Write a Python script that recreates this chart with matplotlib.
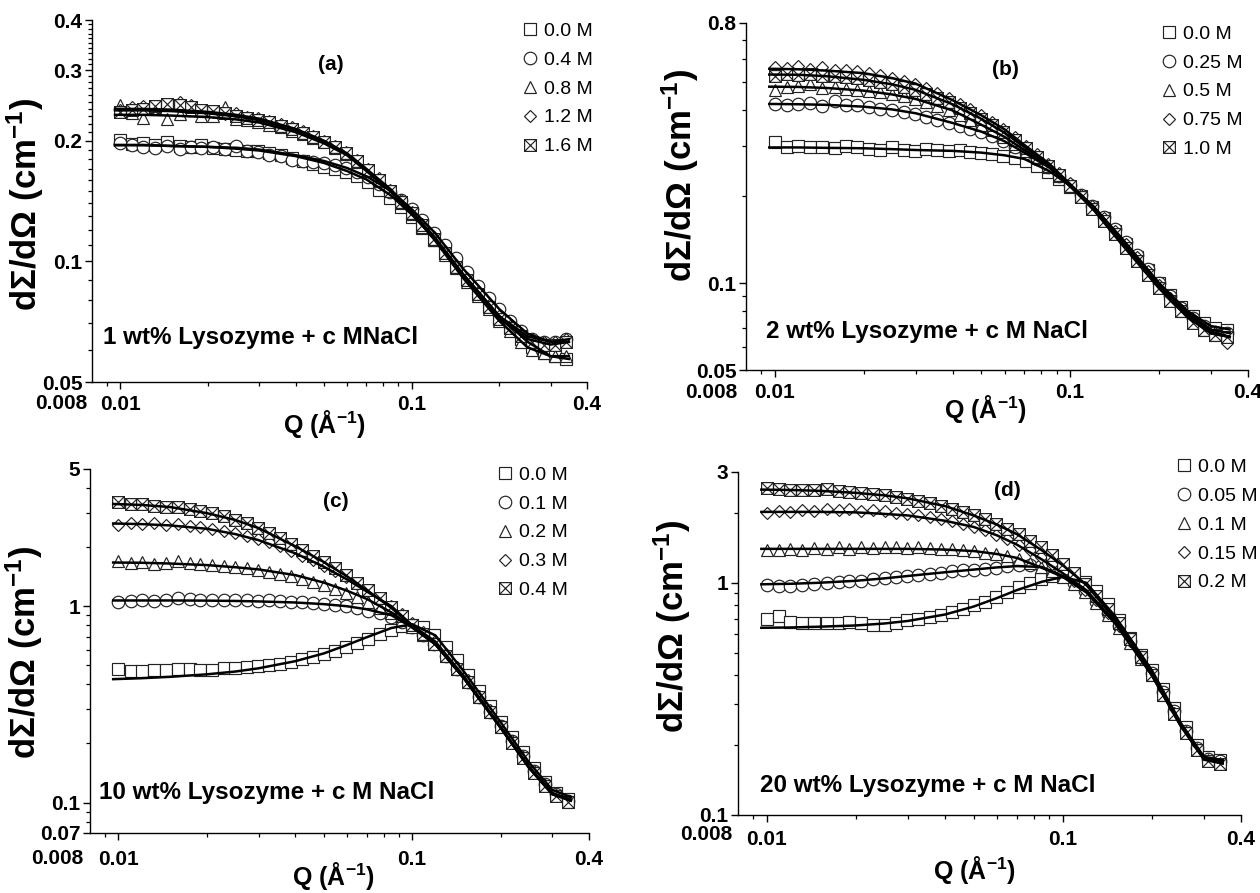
import numpy as np
import matplotlib
matplotlib.use('Agg')
import matplotlib.pyplot as plt
from matplotlib.path import Path
from matplotlib.lines import Line2D
from matplotlib.ticker import FixedLocator, NullFormatter, FixedFormatter

plt.rcParams['font.family'] = ['Liberation Sans', 'DejaVu Sans']
plt.rcParams['mathtext.default'] = 'regular'

# ---------------- data ----------------
# Q grid of the measured points (A^-1)
Q_data = [0.0100, 0.0110, 0.0120, 0.0132, 0.0145, 0.0160, 0.0175, 0.0190, 0.0208, 0.0228,
          0.0250, 0.0273, 0.0298, 0.0325, 0.0355, 0.0388, 0.0423, 0.0460, 0.0500, 0.0545,
          0.0595, 0.0650, 0.0710, 0.0775, 0.0845, 0.0920, 0.1000, 0.1090, 0.1190, 0.1300,
          0.1420, 0.1550, 0.1690, 0.1840, 0.2000, 0.2180, 0.2380, 0.2600, 0.2840, 0.3100, 0.3400]
# Q grid of the model fits
Q_fit = [0.0095, 0.012, 0.015, 0.02, 0.025, 0.03, 0.04, 0.05, 0.06, 0.07,
         0.085, 0.1, 0.12, 0.15, 0.2, 0.25, 0.3, 0.35]

# (a) 1 wt% lysozyme
labels_a = ['0.0 M', '0.4 M', '0.8 M', '1.2 M', '1.6 M']
data_a_00 = [0.201, 0.196, 0.197, 0.195, 0.199, 0.194, 0.193, 0.195, 0.192, 0.191,
             0.190, 0.189, 0.188, 0.186, 0.184, 0.181, 0.178, 0.175, 0.172, 0.170,
             0.167, 0.163, 0.158, 0.151, 0.144, 0.137, 0.129, 0.121, 0.113, 0.105,
             0.097, 0.090, 0.083, 0.077, 0.072, 0.068, 0.064, 0.061, 0.059, 0.058, 0.057]
data_a_04 = [0.197, 0.195, 0.193, 0.192, 0.194, 0.191, 0.193, 0.192, 0.193, 0.191,
             0.194, 0.189, 0.187, 0.184, 0.183, 0.179, 0.178, 0.177, 0.176, 0.174,
             0.171, 0.167, 0.162, 0.156, 0.149, 0.142, 0.135, 0.127, 0.118, 0.110,
             0.102, 0.094, 0.087, 0.081, 0.076, 0.071, 0.067, 0.064, 0.063, 0.063, 0.064]
data_a_08 = [0.245, 0.235, 0.228, 0.243, 0.226, 0.233, 0.238, 0.230, 0.231, 0.242,
             0.226, 0.225, 0.223, 0.219, 0.216, 0.212, 0.208, 0.203, 0.198, 0.192,
             0.185, 0.177, 0.168, 0.159, 0.150, 0.140, 0.131, 0.122, 0.113, 0.104,
             0.096, 0.089, 0.082, 0.076, 0.071, 0.067, 0.063, 0.060, 0.059, 0.058, 0.058]
data_a_12 = [0.238, 0.242, 0.244, 0.240, 0.246, 0.250, 0.245, 0.238, 0.236, 0.233,
             0.235, 0.229, 0.228, 0.224, 0.220, 0.216, 0.211, 0.206, 0.200, 0.194,
             0.187, 0.179, 0.170, 0.161, 0.151, 0.142, 0.133, 0.124, 0.115, 0.106,
             0.098, 0.091, 0.084, 0.078, 0.073, 0.069, 0.066, 0.064, 0.063, 0.063, 0.064]
data_a_16 = [0.236, 0.238, 0.240, 0.244, 0.247, 0.245, 0.243, 0.239, 0.237, 0.234,
             0.231, 0.228, 0.225, 0.222, 0.218, 0.214, 0.209, 0.204, 0.199, 0.193,
             0.186, 0.178, 0.169, 0.160, 0.150, 0.141, 0.132, 0.123, 0.114, 0.105,
             0.097, 0.090, 0.083, 0.077, 0.072, 0.068, 0.065, 0.063, 0.062, 0.062, 0.063]
fit_a_00 = [0.195, 0.195, 0.194, 0.193, 0.191, 0.189, 0.183, 0.176, 0.168, 0.160,
            0.146, 0.131, 0.114, 0.093, 0.073, 0.063, 0.058, 0.057]
fit_a_04 = [0.195, 0.195, 0.194, 0.193, 0.192, 0.190, 0.184, 0.178, 0.171, 0.163,
            0.150, 0.135, 0.118, 0.096, 0.076, 0.066, 0.063, 0.063]
fit_a_08 = [0.232, 0.232, 0.231, 0.229, 0.226, 0.222, 0.210, 0.197, 0.184, 0.168,
            0.149, 0.132, 0.113, 0.091, 0.071, 0.061, 0.058, 0.058]
fit_a_12 = [0.240, 0.240, 0.239, 0.236, 0.232, 0.227, 0.214, 0.200, 0.186, 0.170,
            0.151, 0.133, 0.115, 0.093, 0.073, 0.065, 0.063, 0.064]
fit_a_16 = [0.238, 0.238, 0.237, 0.234, 0.230, 0.225, 0.212, 0.199, 0.185, 0.169,
            0.150, 0.132, 0.114, 0.092, 0.072, 0.064, 0.062, 0.063]

# (b) 2 wt% lysozyme
labels_b = ['0.0 M', '0.25 M', '0.5 M', '0.75 M', '1.0 M']
data_b_000 = [0.310, 0.297, 0.300, 0.296, 0.298, 0.294, 0.299, 0.297, 0.293, 0.291,
              0.296, 0.290, 0.288, 0.292, 0.290, 0.287, 0.289, 0.286, 0.283, 0.281,
              0.277, 0.272, 0.265, 0.255, 0.243, 0.230, 0.216, 0.200, 0.184, 0.168,
              0.152, 0.137, 0.123, 0.111, 0.100, 0.091, 0.083, 0.077, 0.073, 0.070, 0.069]
data_b_025 = [0.420, 0.415, 0.418, 0.422, 0.413, 0.430, 0.415, 0.417, 0.410, 0.404,
              0.400, 0.393, 0.386, 0.378, 0.370, 0.361, 0.352, 0.344, 0.336, 0.325,
              0.312, 0.298, 0.284, 0.269, 0.253, 0.236, 0.219, 0.202, 0.186, 0.170,
              0.154, 0.139, 0.125, 0.112, 0.100, 0.090, 0.082, 0.076, 0.071, 0.068, 0.067]
data_b_050 = [0.470, 0.478, 0.485, 0.490, 0.476, 0.480, 0.472, 0.470, 0.465, 0.460,
              0.452, 0.446, 0.437, 0.426, 0.412, 0.398, 0.383, 0.368, 0.355, 0.340,
              0.323, 0.305, 0.288, 0.271, 0.254, 0.236, 0.218, 0.200, 0.183, 0.166,
              0.150, 0.135, 0.121, 0.109, 0.097, 0.088, 0.080, 0.074, 0.069, 0.066, 0.065]
data_b_075 = [0.565, 0.560, 0.566, 0.555, 0.562, 0.551, 0.549, 0.545, 0.538, 0.527,
              0.515, 0.505, 0.492, 0.477, 0.459, 0.440, 0.420, 0.401, 0.383, 0.363,
              0.342, 0.321, 0.300, 0.280, 0.260, 0.241, 0.222, 0.203, 0.185, 0.168,
              0.152, 0.137, 0.123, 0.110, 0.099, 0.089, 0.081, 0.075, 0.070, 0.067, 0.062]
data_b_100 = [0.525, 0.534, 0.528, 0.531, 0.522, 0.525, 0.519, 0.514, 0.507, 0.499,
              0.490, 0.480, 0.468, 0.455, 0.440, 0.424, 0.406, 0.389, 0.372, 0.354,
              0.334, 0.314, 0.294, 0.275, 0.256, 0.237, 0.218, 0.199, 0.181, 0.164,
              0.148, 0.133, 0.119, 0.107, 0.096, 0.087, 0.080, 0.073, 0.069, 0.066, 0.065]
fit_b_000 = [0.296, 0.296, 0.295, 0.294, 0.292, 0.290, 0.288, 0.284, 0.278, 0.270,
             0.245, 0.218, 0.184, 0.143, 0.100, 0.080, 0.071, 0.069]
fit_b_025 = [0.419, 0.418, 0.416, 0.410, 0.401, 0.389, 0.360, 0.336, 0.311, 0.284,
             0.252, 0.218, 0.185, 0.141, 0.100, 0.079, 0.069, 0.067]
fit_b_050 = [0.481, 0.480, 0.476, 0.466, 0.452, 0.436, 0.398, 0.355, 0.322, 0.290,
             0.254, 0.217, 0.182, 0.138, 0.097, 0.077, 0.067, 0.065]
fit_b_075 = [0.555, 0.553, 0.547, 0.536, 0.515, 0.493, 0.432, 0.383, 0.342, 0.302,
             0.260, 0.221, 0.184, 0.140, 0.099, 0.078, 0.068, 0.065]
fit_b_100 = [0.530, 0.529, 0.523, 0.508, 0.490, 0.469, 0.418, 0.372, 0.333, 0.297,
             0.256, 0.217, 0.180, 0.136, 0.096, 0.076, 0.067, 0.065]

# (c) 10 wt% lysozyme
labels_c = ['0.0 M', '0.1 M', '0.2 M', '0.3 M', '0.4 M']
data_c_00 = [0.480, 0.468, 0.466, 0.472, 0.474, 0.480, 0.478, 0.473, 0.476, 0.482,
             0.486, 0.490, 0.494, 0.500, 0.510, 0.522, 0.537, 0.553, 0.572, 0.595,
             0.620, 0.650, 0.685, 0.720, 0.760, 0.790, 0.805, 0.780, 0.710, 0.620,
             0.530, 0.445, 0.370, 0.310, 0.258, 0.215, 0.180, 0.150, 0.128, 0.112, 0.104]
data_c_01 = [1.05, 1.06, 1.07, 1.06, 1.08, 1.10, 1.09, 1.08, 1.08, 1.07,
             1.08, 1.07, 1.06, 1.07, 1.06, 1.05, 1.05, 1.04, 1.03, 1.02,
             1.00, 0.98, 0.95, 0.92, 0.88, 0.83, 0.78, 0.71, 0.64, 0.56,
             0.48, 0.41, 0.345, 0.29, 0.245, 0.205, 0.172, 0.145, 0.124, 0.110, 0.102]
data_c_02 = [1.70, 1.66, 1.68, 1.65, 1.67, 1.69, 1.66, 1.64, 1.63, 1.61,
             1.59, 1.56, 1.53, 1.50, 1.46, 1.42, 1.38, 1.33, 1.28, 1.23,
             1.17, 1.11, 1.05, 0.98, 0.92, 0.85, 0.78, 0.71, 0.64, 0.56,
             0.48, 0.41, 0.345, 0.29, 0.243, 0.203, 0.170, 0.143, 0.123, 0.109, 0.101]
data_c_03 = [2.60, 2.66, 2.62, 2.65, 2.60, 2.62, 2.56, 2.53, 2.48, 2.43,
             2.36, 2.29, 2.21, 2.12, 2.02, 1.92, 1.81, 1.71, 1.61, 1.51,
             1.41, 1.30, 1.20, 1.10, 1.00, 0.91, 0.82, 0.74, 0.66, 0.57,
             0.49, 0.42, 0.35, 0.295, 0.245, 0.205, 0.171, 0.144, 0.123, 0.109, 0.102]
data_c_04 = [3.38, 3.30, 3.33, 3.24, 3.20, 3.19, 3.12, 3.05, 2.97, 2.87,
             2.76, 2.64, 2.51, 2.37, 2.22, 2.07, 1.93, 1.80, 1.68, 1.56,
             1.44, 1.32, 1.21, 1.10, 0.99, 0.89, 0.80, 0.72, 0.64, 0.56,
             0.48, 0.41, 0.345, 0.29, 0.242, 0.202, 0.169, 0.142, 0.122, 0.108, 0.101]
fit_c_00 = [0.425, 0.430, 0.437, 0.450, 0.465, 0.483, 0.525, 0.575, 0.635, 0.695,
            0.775, 0.810, 0.710, 0.465, 0.257, 0.160, 0.116, 0.106]
fit_c_01 = [1.07, 1.07, 1.07, 1.068, 1.064, 1.058, 1.045, 1.025, 1.000, 0.965,
            0.900, 0.780, 0.640, 0.430, 0.242, 0.152, 0.112, 0.103]
fit_c_02 = [1.67, 1.665, 1.65, 1.62, 1.58, 1.54, 1.44, 1.32, 1.20, 1.09,
            0.93, 0.780, 0.640, 0.430, 0.241, 0.151, 0.111, 0.102]
fit_c_03 = [2.64, 2.62, 2.58, 2.48, 2.33, 2.17, 1.86, 1.59, 1.37, 1.19,
            1.00, 0.800, 0.660, 0.440, 0.243, 0.151, 0.111, 0.102]
fit_c_04 = [3.32, 3.28, 3.20, 2.98, 2.75, 2.50, 2.02, 1.68, 1.42, 1.21,
            0.98, 0.790, 0.640, 0.430, 0.240, 0.150, 0.110, 0.102]

# (d) 20 wt% lysozyme
labels_d = ['0.0 M', '0.05 M', '0.1 M', '0.15 M', '0.2 M']
data_d_000 = [0.70, 0.72, 0.68, 0.67, 0.67, 0.67, 0.67, 0.68, 0.67, 0.66,
              0.66, 0.67, 0.69, 0.70, 0.71, 0.73, 0.75, 0.77, 0.80, 0.83,
              0.87, 0.91, 0.96, 1.00, 1.04, 1.07, 1.08, 1.06, 1.01, 0.92,
              0.81, 0.69, 0.58, 0.49, 0.42, 0.35, 0.29, 0.24, 0.20, 0.178, 0.172]
data_d_005 = [0.98, 0.97, 0.97, 0.98, 0.99, 1.00, 1.01, 1.02, 1.02, 1.04,
              1.05, 1.06, 1.07, 1.08, 1.09, 1.10, 1.12, 1.13, 1.14, 1.15,
              1.16, 1.18, 1.19, 1.19, 1.18, 1.14, 1.08, 1.00, 0.92, 0.83,
              0.74, 0.65, 0.56, 0.48, 0.41, 0.34, 0.28, 0.23, 0.195, 0.175, 0.170]
data_d_010 = [1.38, 1.39, 1.40, 1.39, 1.41, 1.40, 1.42, 1.40, 1.43, 1.41,
              1.42, 1.42, 1.41, 1.42, 1.41, 1.40, 1.40, 1.38, 1.37, 1.35,
              1.33, 1.30, 1.26, 1.22, 1.17, 1.12, 1.06, 0.99, 0.91, 0.82,
              0.73, 0.64, 0.55, 0.47, 0.40, 0.33, 0.275, 0.228, 0.192, 0.172, 0.167]
data_d_015 = [2.00, 2.04, 2.02, 2.06, 2.03, 2.07, 2.05, 2.08, 2.04, 2.06,
              2.03, 2.00, 1.98, 1.95, 1.92, 1.88, 1.84, 1.79, 1.74, 1.68,
              1.61, 1.54, 1.46, 1.38, 1.29, 1.20, 1.11, 1.02, 0.93, 0.84,
              0.74, 0.65, 0.56, 0.47, 0.40, 0.33, 0.275, 0.227, 0.191, 0.171, 0.166]
data_d_020 = [2.55, 2.53, 2.52, 2.50, 2.51, 2.54, 2.49, 2.46, 2.44, 2.41,
              2.38, 2.34, 2.30, 2.25, 2.20, 2.14, 2.08, 2.02, 1.95, 1.88,
              1.80, 1.71, 1.62, 1.52, 1.42, 1.32, 1.21, 1.10, 0.99, 0.88,
              0.77, 0.67, 0.57, 0.48, 0.40, 0.33, 0.273, 0.225, 0.190, 0.170, 0.165]
fit_d_000 = [0.640, 0.642, 0.647, 0.655, 0.668, 0.685, 0.730, 0.790, 0.860, 0.930,
             1.010, 1.060, 1.000, 0.720, 0.420, 0.250, 0.178, 0.172]
fit_d_005 = [0.985, 0.990, 1.000, 1.020, 1.045, 1.070, 1.110, 1.140, 1.165, 1.180,
             1.170, 1.070, 0.920, 0.680, 0.410, 0.245, 0.176, 0.170]
fit_d_010 = [1.40, 1.40, 1.40, 1.40, 1.40, 1.40, 1.39, 1.37, 1.33, 1.28,
             1.16, 1.06, 0.91, 0.67, 0.40, 0.243, 0.175, 0.168]
fit_d_015 = [2.02, 2.02, 2.02, 2.01, 1.98, 1.95, 1.85, 1.74, 1.60, 1.46,
             1.26, 1.10, 0.93, 0.68, 0.40, 0.243, 0.174, 0.167]
fit_d_020 = [2.52, 2.51, 2.49, 2.44, 2.38, 2.31, 2.14, 1.95, 1.78, 1.62,
             1.38, 1.19, 0.98, 0.70, 0.40, 0.243, 0.173, 0.166]

# ---------------- styles ----------------
xbox = Path([(-1, -1), (1, -1), (1, 1), (-1, 1), (-1, -1), (-1, -1), (1, 1), (-1, 1), (1, -1)],
            [Path.MOVETO, Path.LINETO, Path.LINETO, Path.LINETO, Path.CLOSEPOLY,
             Path.MOVETO, Path.LINETO, Path.MOVETO, Path.LINETO])
markers = [('s', 8.5), ('o', 9.0), ('^', 9.0), ('D', 6.6), (xbox, 8.5)]
mec = '#222222'

W, H = 1260, 893
fig = plt.figure(figsize=(W / 100, H / 100), dpi=100)


def px_axes(l, r, t, b):
    return [l / W, (H - b) / H, (r - l) / W, (b - t) / H]


panels = [
    dict(rect=px_axes(92, 587, 20, 382), ylim=(0.05, 0.4),
         yt=[0.05, 0.1, 0.2, 0.3, 0.4], ytl=['0.05', '0.1', '0.2', '0.3', '0.4'],
         ymin=[round(0.05 + 0.01 * k, 2) for k in range(1, 35)],
         data=[data_a_00, data_a_04, data_a_08, data_a_12, data_a_16],
         fits=[fit_a_00, fit_a_04, fit_a_08, fit_a_12, fit_a_16], labels=labels_a,
         tag='(a)', tagxy=(0.483, 0.876), note='1 wt% Lysozyme + c MNaCl', notexy=(0.022, 0.124),
         leg=(1.012, 0.994), ylab=(-0.093, 0.49), xlab=(0.469, -0.072),
         xpad=4, x008=(-3, -15.5)),
    dict(rect=px_axes(746, 1248, 23, 370), ylim=(0.05, 0.8),
         yt=[0.05, 0.1, 0.8], ytl=['0.05', '0.1', '0.8'],
         ymin=[0.06, 0.07, 0.08, 0.09, 0.2, 0.3, 0.4, 0.5, 0.6, 0.7],
         data=[data_b_000, data_b_025, data_b_050, data_b_075, data_b_100],
         fits=[fit_b_000, fit_b_025, fit_b_050, fit_b_075, fit_b_100], labels=labels_b,
         tag='(b)', tagxy=(0.516, 0.865), note='2 wt% Lysozyme + c M NaCl', notexy=(0.04, 0.11),
         leg=(0.99, 0.994), ylab=(-0.09, 0.56), xlab=(0.476, -0.066),
         xpad=4, x008=(-6.5, -16)),
    dict(rect=px_axes(90, 589, 469, 833), ylim=(0.07, 5),
         yt=[0.07, 0.1, 1, 5], ytl=['0.07', '0.1', '1', '5'],
         ymin=[0.08, 0.09, 0.2, 0.3, 0.4, 0.5, 0.6, 0.7, 0.8, 0.9, 2, 3, 4],
         data=[data_c_00, data_c_01, data_c_02, data_c_03, data_c_04],
         fits=[fit_c_00, fit_c_01, fit_c_02, fit_c_03, fit_c_04], labels=labels_c,
         tag='(c)', tagxy=(0.493, 0.912), note='10 wt% Lysozyme + c M NaCl', notexy=(0.018, 0.11),
         leg=(0.958, 1.008), ylab=(-0.09, 0.497), xlab=(0.487, -0.075),
         xpad=7, x008=(-5, -18)),
    dict(rect=px_axes(738, 1241, 472, 815), ylim=(0.1, 3),
         yt=[0.1, 1, 3], ytl=['0.1', '1', '3'],
         ymin=[0.2, 0.3, 0.4, 0.5, 0.6, 0.7, 0.8, 0.9, 2],
         data=[data_d_000, data_d_005, data_d_010, data_d_015, data_d_020],
         fits=[fit_d_000, fit_d_005, fit_d_010, fit_d_015, fit_d_020], labels=labels_d,
         tag='(d)', tagxy=(0.535, 0.945), note='20 wt% Lysozyme + c M NaCl', notexy=(0.044, 0.085),
         leg=(1.034, 1.04), ylab=(-0.09, 0.55), xlab=(0.47, -0.115),
         xpad=6, x008=(-4, -14)),
]

tick_fs = 15
for p in panels:
    ax = fig.add_axes(p['rect'])
    ax.set_xscale('log')
    ax.set_yscale('log')
    ax.set_xlim(0.008, 0.4)
    ax.set_ylim(*p['ylim'])
    for sp in ['top', 'right']:
        ax.spines[sp].set_visible(False)
    for sp in ['left', 'bottom']:
        ax.spines[sp].set_linewidth(1.0)

    for (m, ms), yv in zip(markers, p['data']):
        ax.plot(Q_data, yv, ls='none', marker=m, ms=ms, mfc='white', mec=mec,
                mew=0.85, zorder=2, clip_on=False)
    for yv in p['fits']:
        ax.plot(Q_fit, yv, color='black', lw=1.8, zorder=3, solid_capstyle='butt')

    ax.xaxis.set_major_locator(FixedLocator([0.01, 0.1, 0.4]))
    ax.xaxis.set_major_formatter(FixedFormatter(['0.01', '0.1', '0.4']))
    ax.xaxis.set_minor_locator(FixedLocator([0.009, 0.02, 0.03, 0.04, 0.05, 0.06, 0.07,
                                             0.08, 0.09, 0.2, 0.3]))
    ax.xaxis.set_minor_formatter(NullFormatter())
    ax.yaxis.set_major_locator(FixedLocator(p['yt']))
    ax.yaxis.set_major_formatter(FixedFormatter(p['ytl']))
    ax.yaxis.set_minor_locator(FixedLocator([v for v in p['ymin'] if v not in p['yt']]))
    ax.yaxis.set_minor_formatter(NullFormatter())
    ax.tick_params(which='major', direction='out', length=5, width=1.0,
                   labelsize=tick_fs, pad=2)
    ax.tick_params(axis='x', which='major', pad=p['xpad'])
    ax.tick_params(which='minor', direction='out', length=3, width=0.9)
    for lab in ax.get_xticklabels() + ax.get_yticklabels():
        lab.set_fontweight('bold')
    ax.annotate('0.008', xy=(0, 0), xycoords='axes fraction', xytext=p['x008'],
                textcoords='offset points', ha='right', va='center',
                fontsize=tick_fs, fontweight='bold')

    ax.set_ylabel('d\u03a3/d\u03a9 (cm$^{-1}$)', fontsize=25, fontweight='bold')
    ax.yaxis.set_label_coords(*p['ylab'])
    ax.set_xlabel('Q (\u00c5$^{-1}$)', fontsize=18, fontweight='bold')
    ax.xaxis.set_label_coords(*p['xlab'])

    ax.text(*p['tagxy'], p['tag'], transform=ax.transAxes, ha='center', va='center',
            fontsize=15, fontweight='bold')
    ax.text(*p['notexy'], p['note'], transform=ax.transAxes, ha='left', va='center',
            fontsize=17.5, fontweight='bold')

    handles = [Line2D([], [], ls='none', marker=m, ms=ms, mfc='white', mec=mec, mew=0.85)
               for (m, ms) in markers]
    ax.legend(handles, p['labels'], loc='upper right', bbox_to_anchor=p['leg'],
              frameon=False, fontsize=14, borderpad=0, borderaxespad=0,
              handlelength=0.9, handletextpad=0.27, labelspacing=0.58)

fig.savefig('out.png', dpi=100)
